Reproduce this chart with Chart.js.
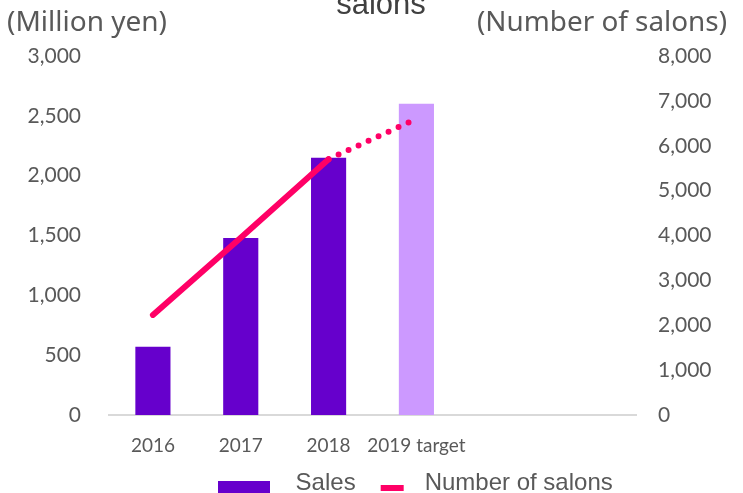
<!DOCTYPE html>
<html>
<head>
<meta charset="utf-8">
<script src="https://cdn.jsdelivr.net/npm/chart.js@4"></script>
<style>
  html, body { margin: 0; padding: 0; background: #fff; }
  #wrap { width: 743px; height: 493px; }
</style>
</head>
<body>
<div id="wrap"><canvas id="salesChart"></canvas></div>
<script>
var years = ['2016', '2017', '2018', '2019 target', '', '']
var sales = [570, 1480, 2150, 2600, null, null]
var salons = [2230, 3950, 5700, 6600, null, null]
var salesColors = ['#6600CC', '#6600CC', '#6600CC', '#CC99FF']
var leftTicks = [0, 500, 1000, 1500, 2000, 2500, 3000]
var rightTicks = [0, 1000, 2000, 3000, 4000, 5000, 6000, 7000, 8000]

var grey = '#595959'

// little pictures for the legend markers
function legendMark(color, x, y, w, h) {
    var c = document.createElement('canvas')
    c.width = 52
    c.height = 22
    var g = c.getContext('2d')
    g.fillStyle = color
    g.fillRect(x, y, w, h)
    return c
}
var salesMark = legendMark('#6600CC', 0, 9, 52, 12)
var salonMark = legendMark('#FF0066', 20, 13, 23, 6)

// title remnant and the two unit captions at the top
var captions = {
    id: 'captions',
    afterLayout: function (chart) {
        // nudge legend to where the original sits, keep x labels unclipped
        var lg = chart.legend
        lg.left += 44; lg.right += 44
        lg.top += 12; lg.bottom += 12
        chart.scales.x.bottom = chart.height
    },
    afterDraw: function (chart) {
        var ctx = chart.ctx
        ctx.save()
        ctx.fillStyle = '#404040'
        ctx.font = '31px "Liberation Sans", Arial, sans-serif'
        ctx.textAlign = 'center'
        ctx.textBaseline = 'alphabetic'
        ctx.fillText('salons', 381, 14)
        ctx.fillStyle = grey
        ctx.font = '28px "Noto Sans", sans-serif'
        ctx.textBaseline = 'middle'
        ctx.textAlign = 'left'
        ctx.fillText('(Million yen)', 7, 23)
        ctx.textAlign = 'right'
        ctx.fillText('(Number of salons)', 727, 23, 250)
        ctx.restore()
    }
}

var ctx = document.getElementById('salesChart').getContext('2d')
var chart = new Chart(ctx, {
    type: 'bar',
    data: {
        labels: years,
        datasets: [{
            label: 'Sales',
            data: sales,
            backgroundColor: salesColors,
            yAxisID: 'y',
            categoryPercentage: 1,
            barPercentage: 0.4,
            order: 2
        }, {
            type: 'line',
            label: 'Number of salons',
            data: salons,
            borderColor: '#FF0066',
            backgroundColor: '#FF0066',
            borderWidth: 6,
            borderCapStyle: 'round',
            pointRadius: 0,
            yAxisID: 'y1',
            order: 1,
            segment: {
                borderDash: function (c) { return c.p1DataIndex === 3 ? [0, 11] : undefined }
            }
        }]
    },
    options: {
        responsive: true,
        maintainAspectRatio: false,
        animation: false,
        layout: { padding: { left: 0, top: 56, right: 0, bottom: 0 } },
        plugins: {
            legend: {
                position: 'bottom',
                labels: {
                    usePointStyle: true,
                    pointStyleWidth: 52,
                    padding: 5,
                    color: grey,
                    font: { family: '"Liberation Sans", Arial, sans-serif', size: 24 },
                    generateLabels: function (ch) {
                        var items = Chart.defaults.plugins.legend.labels.generateLabels(ch)
                        items.sort(function (a, b) { return a.datasetIndex - b.datasetIndex })
                        items[0].text = '  Sales'
                        items[0].pointStyle = salesMark
                        items[1].pointStyle = salonMark
                        return items
                    }
                }
            },
            tooltip: { enabled: false }
        },
        scales: {
            x: {
                grid: { display: false },
                border: { display: true, color: '#D9D9D9', width: 2 },
                ticks: {
                    color: grey,
                    padding: 11,
                    maxRotation: 0,
                    autoSkip: false,
                    font: { family: 'Lato, sans-serif', size: 19 }
                },
                afterFit: function (s) { s.height = 78 - s.chart.legend.height }
            },
            y: {
                position: 'left',
                min: 0,
                max: 3000,
                grid: { display: false, drawTicks: false },
                border: { display: false },
                afterBuildTicks: function (s) { s.ticks = leftTicks.map(function (v) { return { value: v } }) },
                ticks: {
                    color: grey,
                    padding: 28,
                    font: { family: 'Lato, sans-serif', size: 21 },
                    callback: function (v) { return v.toLocaleString('en-US') }
                },
                afterFit: function (s) { s.width = 109 }
            },
            y1: {
                position: 'right',
                min: 0,
                max: 8000,
                grid: { display: false, drawTicks: false },
                border: { display: false },
                afterBuildTicks: function (s) { s.ticks = rightTicks.map(function (v) { return { value: v } }) },
                ticks: {
                    color: grey,
                    padding: 22,
                    font: { family: 'Lato, sans-serif', size: 21 },
                    callback: function (v) { return v.toLocaleString('en-US') }
                },
                afterFit: function (s) { s.width = 107 }
            }
        }
    },
    plugins: [captions]
})
</script>
</body>
</html>
